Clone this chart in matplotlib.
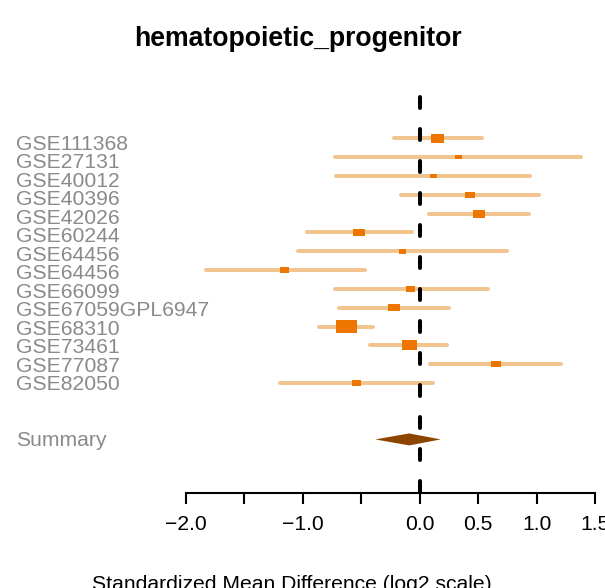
import matplotlib
matplotlib.use("Agg")
import matplotlib.pyplot as plt
from matplotlib.patches import Rectangle, Polygon

plt.rcParams['font.family'] = ['Liberation Sans', 'DejaVu Sans']

# study-level estimates (log2 SMD)
studies = ["GSE111368", "GSE27131", "GSE40012", "GSE40396", "GSE42026",
           "GSE60244", "GSE64456", "GSE64456", "GSE66099", "GSE67059GPL6947",
           "GSE68310", "GSE73461", "GSE77087", "GSE82050"]
effect = [0.155, 0.33, 0.12, 0.43, 0.505, -0.52, -0.15, -1.16, -0.08, -0.22,
          -0.63, -0.09, 0.65, -0.54]
lower = [-0.24, -0.74, -0.73, -0.18, 0.06, -0.98, -1.06, -1.85, -0.74, -0.71,
         -0.88, -0.44, 0.07, -1.21]
upper = [0.55, 1.40, 0.96, 1.04, 0.95, -0.05, 0.76, -0.45, 0.60, 0.27,
         -0.385, 0.25, 1.23, 0.13]
# relative box size (study weight)
weights = [13.3, 6.7, 6.7, 9.3, 12.0, 11.7, 7.0, 8.7, 9.0, 11.3, 21.0, 15.3, 10.0, 8.7]

summary_est = -0.09
summary_lo = -0.38
summary_hi = 0.18

xticks = [-2.0, -1.5, -1.0, -0.5, 0.0, 0.5, 1.0, 1.5]
xticklabels = ["\u22122.0", "", "\u22121.0", "", "0.0", "0.5", "1.0", "1.5"]

W, H = 605, 588
fig = plt.figure(figsize=(W / 100, H / 100), dpi=100)

# pixel layout
row1_px, row_step = 138.3, 18.82
ax_top_px, ax_bot_px = 90, 493
ax_left_px, ax_right_px = 186, 595
px_per_unit = (ax_right_px - ax_left_px) / 3.5


def row_of(px):
    return 1 + (px - row1_px) / row_step


ax = fig.add_axes([ax_left_px / W, 1 - ax_bot_px / H,
                   (ax_right_px - ax_left_px) / W, (ax_bot_px - ax_top_px) / H])
ax.set_xlim(-2, 1.5)
ax.set_ylim(row_of(ax_bot_px), row_of(ax_top_px))

ci_col = '#F2C48E'
box_col = '#EE7600'
lw_px = 4
inset = (lw_px / 2) / px_per_unit

for i in range(len(studies)):
    r = i + 1
    ax.plot([lower[i] + inset, upper[i] - inset], [r, r], color=ci_col,
            lw=lw_px * 0.72, solid_capstyle='round', zorder=2)

# null line
ax.plot([0, 0], [row_of(97), row_of(ax_bot_px)], color='black', lw=lw_px * 0.72,
        linestyle=(0, (2.75, 5.25)), dash_capstyle='round', zorder=3, clip_on=False)

for i in range(len(studies)):
    r = i + 1
    w = weights[i] / px_per_unit
    h = weights[i] * 0.66 / row_step
    ax.add_patch(Rectangle((effect[i] - w / 2, r - h / 2), w, h,
                           facecolor=box_col, edgecolor='none', zorder=4))

sr = 17
dh = 6 / row_step
ax.add_patch(Polygon([(summary_lo, sr), (summary_est, sr - dh), (summary_hi, sr),
                      (summary_est, sr + dh)], closed=True,
                     facecolor='#8B4500', edgecolor='none', zorder=4))

for s in ['top', 'right', 'left']:
    ax.spines[s].set_visible(False)
ax.spines['bottom'].set_linewidth(1.5)
ax.spines['bottom'].set_bounds(-2, 1.5)
ax.set_yticks([])
ax.set_xticks(xticks)
ax.set_xticklabels(xticklabels)
ax.tick_params(axis='x', length=8, width=1.5, pad=8, labelsize=15.2)
for lab in ax.get_xticklabels():
    lab.set_clip_on(False)

lab_col = '#8A8A8A'
for i, s in enumerate(studies):
    base_px = 150 + i * 18.46
    fig.text(16 / W, 1 - base_px / H, s, color=lab_col, fontsize=15.2,
             ha='left', va='baseline')
fig.text(16 / W, 1 - 445.5 / H, "Summary", color=lab_col, fontsize=15.2,
         ha='left', va='baseline')

fig.text(298 / W, 1 - 46.5 / H, "hematopoietic_progenitor", fontsize=19.2,
         fontweight='bold', ha='center', va='baseline')
fig.text(292 / W, 1 - 590 / H, "Standardized Mean Difference (log2 scale)",
         fontsize=15.2, ha='center', va='baseline')

fig.savefig("out.png", dpi=100)
